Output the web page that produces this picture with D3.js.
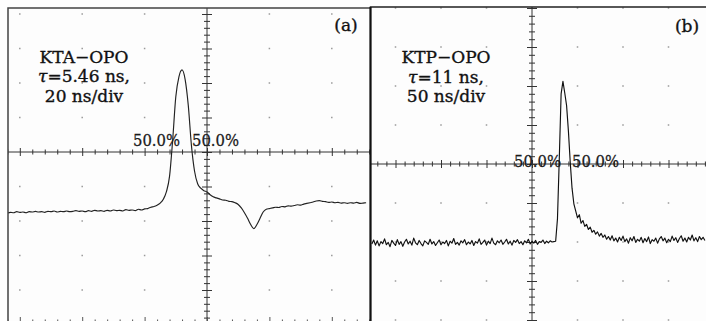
<!DOCTYPE html>
<html>
<head>
<meta charset="utf-8">
<script src="https://cdn.jsdelivr.net/npm/d3@7/dist/d3.min.js"></script>
<style>
  body { margin: 0; background: #fff; }
  svg { display: block; }
</style>
</head>
<body>
<div class="scope"></div>
<script>
// Trace (a): KTA-OPO, sampled every 1 ns from -64 ns, amplitude in divisions
const traceAStart = -64
const traceAStep = 1
const traceA = [
    -1.77, -1.75, -1.76, -1.73, -1.75, -1.74, -1.76, -1.73, -1.74, -1.72,
    -1.74, -1.73, -1.75, -1.72, -1.73, -1.71, -1.74, -1.72, -1.73, -1.71,
    -1.73, -1.72, -1.70, -1.72, -1.71, -1.73, -1.70, -1.72, -1.69, -1.71,
    -1.70, -1.72, -1.69, -1.71, -1.68, -1.70, -1.69, -1.71, -1.67, -1.69,
    -1.68, -1.70, -1.66, -1.68, -1.65, -1.64, -1.60, -1.58, -1.54, -1.48,
    -1.37, -1.15, -0.70, 0.35, 1.60, 2.18, 2.38, 2.10, 1.35, 0.20,
    -0.55, -0.92, -1.05, -1.12, -1.16, -1.24, -1.30, -1.33, -1.36, -1.39,
    -1.40, -1.43, -1.44, -1.47, -1.52, -1.62, -1.76, -1.92, -2.10, -2.22,
    -2.10, -1.92, -1.74, -1.66, -1.64, -1.62, -1.60, -1.61, -1.58, -1.59,
    -1.56, -1.57, -1.55, -1.53, -1.54, -1.51, -1.49, -1.47, -1.45, -1.42,
    -1.41, -1.43, -1.44, -1.46, -1.45, -1.47, -1.46, -1.48, -1.47, -1.49,
    -1.47, -1.48, -1.46, -1.49, -1.48, -1.47,
]

// Trace (b): KTP-OPO, sampled every 2 ns from -176 ns
const traceBStart = -176
const traceBStep = 2
const traceB = [
    -2.05, -1.95, -2.08, -1.97, -2.10, -1.99, -2.04, -1.92, -2.07, -2.01,
    -2.12, -1.96, -2.03, -2.09, -1.94, -2.06, -1.99, -2.11, -2.00, -1.93,
    -2.05, -1.98, -2.08, -1.90, -2.02, -2.07, -1.96, -2.04, -2.10, -1.97,
    -2.01, -2.06, -1.93, -2.05, -1.99, -2.09, -2.02, -1.95, -2.07, -2.00,
    -2.04, -1.96, -2.10, -1.98, -2.03, -1.91, -2.06, -2.01, -2.08, -1.97,
    -2.02, -1.94, -2.07, -2.00, -2.05, -1.96, -2.09, -1.99, -2.03, -1.92,
    -2.06, -2.01, -1.95, -2.08, -1.98, -2.04, -1.90, -2.03, -2.07, -1.97,
    -2.02, -1.95, -2.06, -2.00, -1.93, -2.05, -1.98, -2.08, -1.96, -2.01,
    -1.94, -2.04, -1.99, -2.07, -1.97, -2.02, -1.93, -2.05, -1.98, -2.03,
    -1.96, -2.06, -1.99, -2.01, -1.95, -2.04, -1.98, -2.02, -1.97, -2.00,
    -1.99,
    // pulse
    -1.98, -1.40, 0.15, 1.80, 2.12, 1.82, 1.50, 0.85, 0.05,
    // tail
    -0.62, -1.02, -1.20, -1.38, -1.30, -1.52, -1.45, -1.60, -1.55, -1.68,
    -1.62, -1.75, -1.70, -1.80, -1.74, -1.85, -1.78, -1.88, -1.82, -1.93,
    -1.86, -1.95, -1.84, -1.97, -1.90, -2.00, -1.88, -1.96, -1.85, -1.99,
    -1.92, -2.03, -1.89, -1.97, -1.86, -2.01, -1.93, -1.98, -1.88, -2.02,
    -1.91, -1.99, -1.87, -2.04, -1.94, -1.98, -1.90, -2.03, -1.92, -1.86,
    -1.97, -1.90, -2.02, -1.93, -1.99, -1.85, -1.96, -1.89, -2.01, -1.91,
    -1.84, -1.98, -1.90, -2.00, -1.88, -1.95, -1.82, -1.97, -1.89, -1.99,
    -1.86, -1.94, -1.88, -1.96,
]

// Text on each screen
const namesA = ['KTA\u2212OPO', '=5.46 ns,', '20 ns/div']
const namesB = ['KTP\u2212OPO', '=11 ns,', '50 ns/div']
const tags = ['(a)', '(b)']
const levelText = '50.0%'
const nsPerDiv = [20, 50]

/* Configuration */
const width = 706
const height = 321

const svg = d3
    .select('.scope')
    .append('svg')
    .attr('width', width)
    .attr('height', height)
    .style('font-family', '"DejaVu Serif", serif')

// screen geometry: visible window, centre of graticule, pixels per division
const panels = [
    {
        trace: traceA, start: traceAStart, step: traceAStep, ns: nsPerDiv[0],
        names: namesA, tag: tags[0],
        win: { x0: 8, y0: 8, x1: 370, y1: height },
        cx: 207, cy: 152, dx: 62.4, dy: 34.5,
        textX: 84, textY: 62.5, tagX: 346, tagY: 31,
        levels: [[156.5, 146], [215.5, 146]],
        bottomTicks: true,
        curve: d3.curveMonotoneX, stroke: '#222', strokeWidth: 1.15,
    },
    {
        trace: traceB, start: traceBStart, step: traceBStep, ns: nsPerDiv[1],
        names: namesB, tag: tags[1],
        win: { x0: 370, y0: 7, x1: width, y1: height },
        cx: 532, cy: 164, dx: 45.5, dy: 39,
        textX: 446, textY: 63, tagX: 687, tagY: 32,
        levels: [[537.5, 167], [595.5, 167]],
        bottomTicks: false,
        curve: d3.curveLinear, stroke: '#111', strokeWidth: 1.15,
    },
]

panels.forEach((p, k) => {
    const x = d3
        .scaleLinear()
        .domain([-5 * p.ns, 5 * p.ns])
        .range([p.cx - 5 * p.dx, p.cx + 5 * p.dx])
    const y = d3
        .scaleLinear()
        .domain([-4, 4])
        .range([p.cy + 4 * p.dy, p.cy - 4 * p.dy])

    const clipId = 'clip' + k
    svg.append('clipPath').attr('id', clipId)
        .append('rect')
        .attr('x', p.win.x0)
        .attr('y', p.win.y0)
        .attr('width', p.win.x1 - p.win.x0)
        .attr('height', p.win.y1 - p.win.y0)

    const g = svg.append('g').attr('clip-path', `url(#${clipId})`)

    g.append('rect')
        .attr('x', p.win.x0)
        .attr('y', p.win.y0)
        .attr('width', p.win.x1 - p.win.x0)
        .attr('height', p.win.y1 - p.win.y0)
        .attr('fill', '#fdfdfd')

    // graticule dots at every division
    const cols = d3.range(-6, 7).filter(i => i !== 0)
    const rows = d3.range(-5, 6).filter(j => j !== 0)
    g.append('g')
        .attr('fill', '#9a9a9a')
        .selectAll('rect')
        .data(d3.cross(cols, rows))
        .join('rect')
        .attr('x', d => x(d[0] * p.ns) - 0.75)
        .attr('y', d => y(d[1]) - 0.75)
        .attr('width', 1.5)
        .attr('height', 1.5)

    // centre axes with minor ticks (5 per division)
    const minorX = d3.range(-30, 31).map(i => i * p.ns / 5)
    const minorY = d3.range(-25, 26).map(i => i / 5)

    const hAxis = g.append('g')
        .attr('transform', `translate(0,${y(0) - 2.5})`)
        .call(d3.axisBottom(x).tickValues(minorX.filter(v => Math.round(v / p.ns * 5) % 5 !== 0))
            .tickSize(5).tickFormat(''))
    hAxis.append('g')
        .call(d3.axisBottom(x).tickValues(minorX.filter(v => Math.round(v / p.ns * 5) % 5 === 0))
            .tickSize(8).tickFormat(''))
        .attr('transform', 'translate(0,-1.5)')
    hAxis.selectAll('.domain').remove()

    const vAxis = g.append('g')
        .attr('transform', `translate(${x(0) - 3},0)`)
        .call(d3.axisRight(y).tickValues(minorY.filter(v => Math.round(v * 5) % 5 !== 0))
            .tickSize(6).tickFormat(''))
    vAxis.append('g')
        .call(d3.axisRight(y).tickValues(minorY.filter(v => Math.round(v * 5) % 5 === 0))
            .tickSize(10).tickFormat(''))
        .attr('transform', 'translate(-2,0)')
    vAxis.selectAll('.domain').remove()
    g.selectAll('.tick line').attr('stroke', '#333').attr('stroke-width', 1)

    g.append('line')
        .attr('x1', p.win.x0).attr('x2', p.win.x1)
        .attr('y1', y(0)).attr('y2', y(0))
        .attr('stroke', '#333').attr('stroke-width', 1)
    g.append('line')
        .attr('x1', x(0)).attr('x2', x(0))
        .attr('y1', p.win.y0).attr('y2', p.win.y1)
        .attr('stroke', '#333').attr('stroke-width', 1)

    if (p.bottomTicks) {
        const bt = g.append('g')
            .attr('transform', `translate(0,${p.win.y1 - 4})`)
            .call(d3.axisBottom(x).tickValues(minorX.filter(v => Math.round(v / p.ns * 5) % 5 === 0))
                .tickSize(4).tickFormat(''))
        bt.append('g')
            .call(d3.axisBottom(x).tickValues(minorX.filter(v => Math.round(v / p.ns * 5) % 5 !== 0))
                .tickSize(1.5).tickFormat(''))
            .attr('transform', 'translate(0,2.5)')
        bt.selectAll('.domain').remove()
        bt.selectAll('.tick line').attr('stroke', '#555')
    }

    // 50% level markers
    g.append('g')
        .attr('fill', '#1a1a1a')
        .attr('stroke', '#1a1a1a')
        .attr('stroke-width', 0.3)
        .attr('font-size', 17.5)
        .attr('text-anchor', 'middle')
        .selectAll('text')
        .data(p.levels)
        .join('text')
        .attr('x', d => d[0])
        .attr('y', d => d[1])
        .attr('textLength', 47)
        .attr('lengthAdjust', 'spacingAndGlyphs')
        .text(levelText)

    // the trace
    const line = d3.line()
        .x((d, i) => x(p.start + i * p.step))
        .y(d => y(d))
        .curve(p.curve)
    g.append('path')
        .datum(p.trace)
        .attr('fill', 'none')
        .attr('stroke', p.stroke)
        .attr('stroke-width', p.strokeWidth)
        .attr('stroke-linejoin', 'round')
        .attr('d', line)

    // caption
    const cap = g.append('g')
        .attr('fill', '#111')
        .attr('stroke', '#111')
        .attr('stroke-width', 0.35)
        .attr('font-size', 17)
        .attr('text-anchor', 'middle')
    cap.append('text').attr('x', p.textX).attr('y', p.textY).text(p.names[0])
    const t2 = cap.append('text').attr('x', p.textX).attr('y', p.textY + 19.5)
    t2.append('tspan').attr('font-style', 'italic').text('\u03c4')
    t2.append('tspan').text(p.names[1])
    cap.append('text').attr('x', p.textX).attr('y', p.textY + 39).text(p.names[2])

    g.append('text')
        .attr('x', p.tagX).attr('y', p.tagY)
        .attr('font-size', 17)
        .attr('fill', '#111')
        .attr('stroke', '#111')
        .attr('stroke-width', 0.35)
        .attr('text-anchor', 'middle')
        .text(p.tag)
})

// screen frames
svg.append('path')
    .attr('d', `M8,${height}V8H370`)
    .attr('fill', 'none')
    .attr('stroke', '#444')
    .attr('stroke-width', 1.5)
svg.append('path')
    .attr('d', `M${width},7H370.5V${height}`)
    .attr('fill', 'none')
    .attr('stroke', '#222')
    .attr('stroke-width', 1.5)
svg.append('line')
    .attr('x1', 370.5).attr('x2', 370.5)
    .attr('y1', 7).attr('y2', height)
    .attr('stroke', '#111')
    .attr('stroke-width', 2)
</script>
</body>
</html>
